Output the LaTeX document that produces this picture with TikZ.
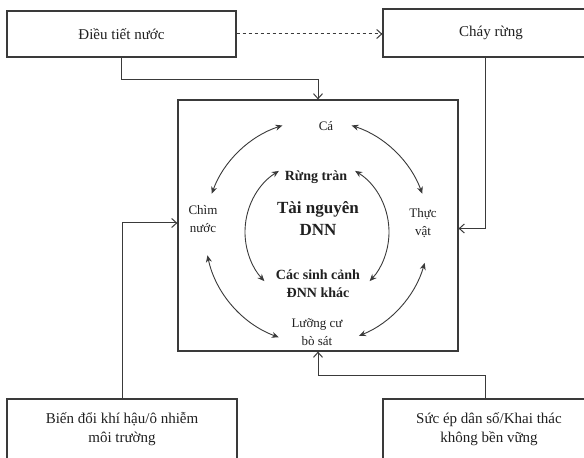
\documentclass[tikz,border=0pt]{standalone}
\usepackage{fontspec}
\setmainfont{Liberation Serif}
\definecolor{inkline}{HTML}{3a3a3a}
\definecolor{inktext}{HTML}{202020}
\usepackage{tikz}
\usetikzlibrary{arrows.meta}

\begin{document}
\begin{tikzpicture}[
		x=1pt, y=1pt,
		box/.style={draw=inkline, line width=1.2pt, text=inktext, font=\fontsize{15}{19}\selectfont, align=center, inner sep=0pt},
		lbl/.style={text=inktext, font=\fontsize{13}{18}\selectfont, align=center, inner sep=1pt},
		habitat/.style={text=inktext, font=\bfseries\fontsize{14}{18}\selectfont, align=center, inner sep=1pt},
		core/.style={text=inktext, font=\bfseries\fontsize{17}{22}\selectfont, align=center, inner sep=1pt},
		arrow/.style={-{Straight Barb[length=5pt,width=9pt]}, line width=1pt, draw=inkline},
		cyc/.style={{Stealth[length=7pt,width=6pt]}-{Stealth[length=7pt,width=6pt]}, line width=0.9pt, draw=inkline}
	]
	\clip (0,0) rectangle (584,458);
	\fill[white] (0,0) rectangle (584,458);
	\node[box, minimum width=229, minimum height=46] (dieutiet) at (121.5,424) {Điều tiết nước};
	\node[box, minimum width=216, minimum height=48] (chay) at (491,425) {Cháy rừng};
	\node[box, minimum width=280, minimum height=251] (tn) at (318,232.5) {};
	\node[box, minimum width=230, minimum height=60] (biendoi) at (122,29) {Biến đổi khí hậu/ô nhiễm\\môi trường};
	\node[box, minimum width=212, minimum height=60] (sucep) at (489,29) {Sức ép dân số/Khai thác\\không bền vững};
	\draw[arrow, dashed] (dieutiet.east) -- (dieutiet.east -| chay.west);
	\draw[arrow] (dieutiet.south) -- ++(0,-22) -| (tn.north);
	\draw[arrow] ([xshift=-6pt]chay.south) |- ([yshift=-3pt]tn.east);
	\draw[arrow] (biendoi.north) |- ([yshift=2.5pt]tn.west);
	\draw[arrow] ([xshift=-4pt]sucep.north) -- ++(0,23) -| (tn.south);
	\node[lbl] (ca) at (326,332) {Cá};
	\node[lbl] (chim) at (203,239) {Chìm\\nước};
	\node[lbl] (thuc) at (423,235) {Thực\\vật};
	\node[lbl] (luong) at (317,126) {Lưỡng cư\\bò sát};
	\node[habitat] (rung) at (316,281) {Rừng tràn};
	\node[core] (tainguyen) at (318,239) {Tài nguyên\\DNN};
	\node[habitat] (cacsinh) at (318,174) {Các sinh cảnh\\ĐNN khác};
	\coordinate (c) at (317,226);
	\draw[cyc] ([shift={(108:112)}]c) arc[start angle=108, end angle=160, radius=112];
	\draw[cyc] ([shift={(72:112)}]c) arc[start angle=72, end angle=20, radius=112];
	\draw[cyc] ([shift={(-16:112)}]c) arc[start angle=-16, end angle=-68, radius=112];
	\draw[cyc] ([shift={(192:112)}]c) arc[start angle=192, end angle=250, radius=112];
	\draw[cyc] ([shift={(122:72)}]c) arc[start angle=122, end angle=223, radius=72];
	\draw[cyc] ([shift={(58:72)}]c) arc[start angle=58, end angle=-43, radius=72];
\end{tikzpicture}
\end{document}
